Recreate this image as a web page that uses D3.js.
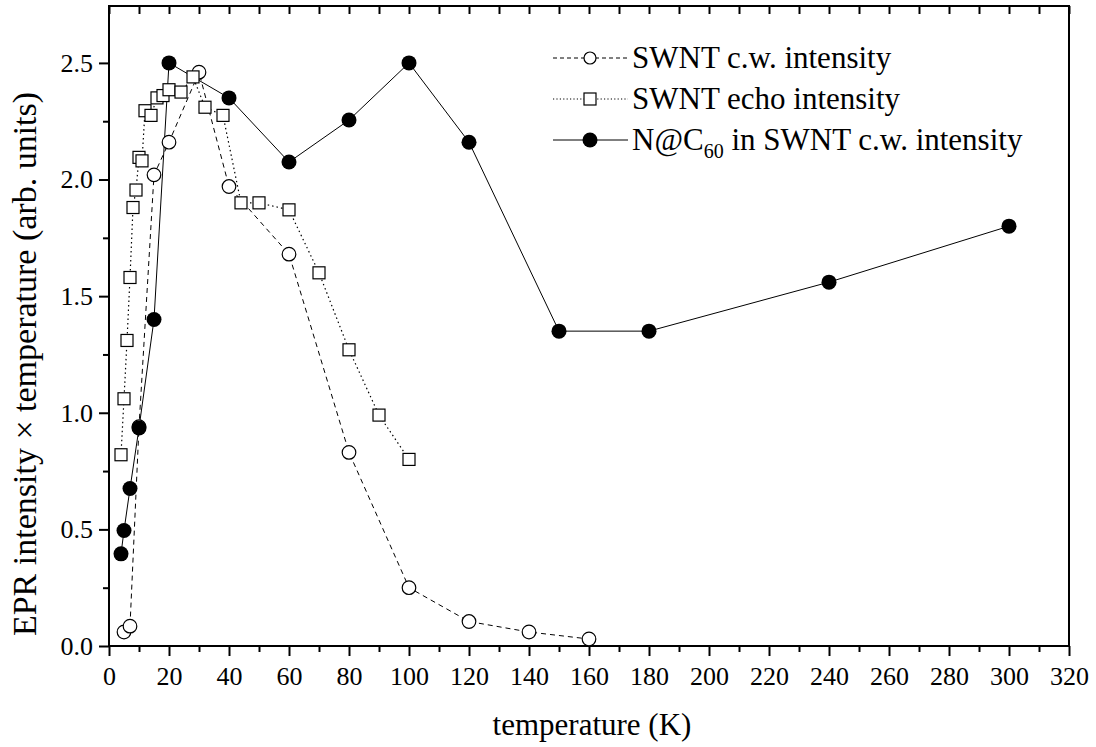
<!DOCTYPE html>
<html>
<head>
<meta charset="utf-8">
<script src="https://cdn.jsdelivr.net/npm/d3@7"></script>
<style>
    body { margin: 0; background: #fff; }
    svg { display: block; font-family: "Liberation Serif", "Times New Roman", serif; }
    svg text { font-family: "Liberation Serif", "Times New Roman", serif; }
</style>
</head>
<body>
<div id="chart"></div>
<script>
// SWNT c.w. intensity (open circles, dashed)
const cwTemp = [5, 7, 10, 15, 20, 30, 40, 60, 80, 100, 120, 140, 160];
const cwValue = [0.06, 0.085, 0.94, 2.02, 2.16, 2.46, 1.97, 1.68, 0.83, 0.25, 0.105, 0.06, 0.03];

// SWNT echo intensity (open squares, dotted)
const echoTemp = [4, 5, 6, 7, 8, 9, 10, 11, 12, 14, 16, 18, 20, 24, 28, 32, 38, 44, 50, 60, 70, 80, 90, 100];
const echoValue = [0.82, 1.06, 1.31, 1.58, 1.88, 1.955, 2.095, 2.08, 2.295, 2.275, 2.35, 2.36, 2.385, 2.375, 2.44, 2.31, 2.275, 1.9, 1.9, 1.87, 1.6, 1.27, 0.99, 0.8];

// N@C60 in SWNT c.w. intensity (filled circles, solid)
const ncTemp = [4, 5, 7, 10, 15, 20, 40, 60, 80, 100, 120, 150, 180, 240, 300];
const ncValue = [0.395, 0.495, 0.675, 0.935, 1.4, 2.5, 2.35, 2.075, 2.255, 2.5, 2.16, 1.35, 1.35, 1.56, 1.8];

const xTicks = d3.range(0, 321, 20);
const yTicks = [0, 0.5, 1.0, 1.5, 2.0, 2.5];

const width = 1096, height = 747;
const plotLeft = 109, plotRight = 1069, plotTop = 6, plotBottom = 646;

const x = d3.scaleLinear().domain([0, 320]).range([plotLeft, plotRight]);
const y = d3.scaleLinear().domain([0, 2.744]).range([plotBottom, plotTop]);

const svg = d3.select('#chart').append('svg')
    .attr('width', width)
    .attr('height', height);

function zip(xs, ys) {
    return xs.map((t, i) => ({ t: t, v: ys[i] }));
}

const line = d3.line().x(d => x(d.t)).y(d => y(d.v));

// frame
svg.append('rect')
    .attr('x', plotLeft).attr('y', plotTop)
    .attr('width', plotRight - plotLeft).attr('height', plotBottom - plotTop)
    .attr('fill', 'none').attr('stroke', '#000').attr('stroke-width', 2);

// bottom axis, major + minor
svg.append('g').attr('transform', `translate(0,${plotBottom})`)
    .call(d3.axisBottom(x).tickValues(xTicks).tickSize(10).tickPadding(11).tickFormat(d3.format('d')));
svg.append('g').attr('transform', `translate(0,${plotBottom})`)
    .call(d3.axisBottom(x).tickValues(d3.range(10, 320, 20)).tickSize(6).tickFormat(''));

// top axis, inward ticks
svg.append('g').attr('transform', `translate(0,${plotTop})`)
    .call(d3.axisBottom(x).tickValues(xTicks).tickSize(8).tickFormat(''));
svg.append('g').attr('transform', `translate(0,${plotTop})`)
    .call(d3.axisBottom(x).tickValues(d3.range(10, 320, 20)).tickSize(8).tickFormat(''));

// left axis
svg.append('g').attr('transform', `translate(${plotLeft},0)`)
    .call(d3.axisLeft(y).tickValues(yTicks).tickSize(10).tickPadding(6).tickFormat(d3.format('.1f')));
svg.append('g').attr('transform', `translate(${plotLeft},0)`)
    .call(d3.axisLeft(y).tickValues([0.25, 0.75, 1.25, 1.75, 2.25]).tickSize(6).tickFormat(''));

svg.selectAll('.domain').remove();
svg.selectAll('.tick line').attr('stroke', '#000').attr('stroke-width', 2);
svg.selectAll('.tick text').attr('fill', '#000')
    .style('font-family', '"Liberation Serif", "Times New Roman", serif')
    .style('font-size', '26px');

// axis titles
svg.append('text')
    .attr('x', (plotLeft + plotRight) / 2 + 3).attr('y', 735)
    .attr('text-anchor', 'middle')
    .style('font-size', '31px')
    .text('temperature (K)');

svg.append('text')
    .attr('transform', 'translate(36,364) rotate(-90)')
    .attr('text-anchor', 'middle')
    .style('font-size', '34px')
    .text('EPR intensity \u00d7 temperature (arb. units)');

// series
const cw = zip(cwTemp, cwValue);
const echo = zip(echoTemp, echoValue);
const nc = zip(ncTemp, ncValue);

svg.append('path').datum(cw).attr('d', line)
    .attr('fill', 'none').attr('stroke', '#000').attr('stroke-width', 1)
    .attr('stroke-dasharray', '5,4');
svg.append('path').datum(echo).attr('d', line)
    .attr('fill', 'none').attr('stroke', '#000').attr('stroke-width', 1.2)
    .attr('stroke-dasharray', '1.5,3');
svg.append('path').datum(nc).attr('d', line)
    .attr('fill', 'none').attr('stroke', '#000').attr('stroke-width', 1);

svg.selectAll('circle.cw').data(cw).enter().append('circle')
    .attr('class', 'cw')
    .attr('cx', d => x(d.t)).attr('cy', d => y(d.v)).attr('r', 6.8)
    .attr('fill', '#fff').attr('stroke', '#000').attr('stroke-width', 1.2);

svg.selectAll('rect.echo').data(echo).enter().append('rect')
    .attr('class', 'echo')
    .attr('x', d => x(d.t) - 6).attr('y', d => y(d.v) - 6)
    .attr('width', 12).attr('height', 12)
    .attr('fill', '#fff').attr('stroke', '#000').attr('stroke-width', 1.2);

svg.selectAll('circle.nc').data(nc).enter().append('circle')
    .attr('class', 'nc')
    .attr('cx', d => x(d.t)).attr('cy', d => y(d.v)).attr('r', 7.5)
    .attr('fill', '#000');

// legend
const legendItems = [
    { label: 'SWNT c.w. intensity', dash: '4,3', marker: 'circle' },
    { label: 'SWNT echo intensity', dash: '1.2,2.2', marker: 'square' },
    { label: 'N@C', sub: '60', rest: ' in SWNT c.w. intensity', dash: null, marker: 'filled' }
];

const legend = svg.append('g');
legendItems.forEach((item, i) => {
    const cy = 58 + i * 41;
    legend.append('line')
        .attr('x1', 553).attr('x2', 628).attr('y1', cy).attr('y2', cy)
        .attr('stroke', '#000').attr('stroke-width', 1)
        .attr('stroke-dasharray', item.dash);
    if (item.marker === 'circle') {
        legend.append('circle').attr('cx', 590).attr('cy', cy).attr('r', 6)
            .attr('fill', '#fff').attr('stroke', '#000').attr('stroke-width', 1.2);
    } else if (item.marker === 'square') {
        legend.append('rect').attr('x', 584).attr('y', cy - 6).attr('width', 12).attr('height', 12)
            .attr('fill', '#fff').attr('stroke', '#000').attr('stroke-width', 1.2);
    } else {
        legend.append('circle').attr('cx', 590).attr('cy', cy).attr('r', 7.5).attr('fill', '#000');
    }
    const t = legend.append('text')
        .attr('x', 632).attr('y', cy + 10)
        .style('font-size', '31px');
    t.append('tspan').text(item.label);
    if (item.sub) {
        t.append('tspan').attr('dy', 8).style('font-size', '20px').text(item.sub);
        t.append('tspan').attr('dy', -8).text(item.rest);
    }
});
</script>
</body>
</html>
